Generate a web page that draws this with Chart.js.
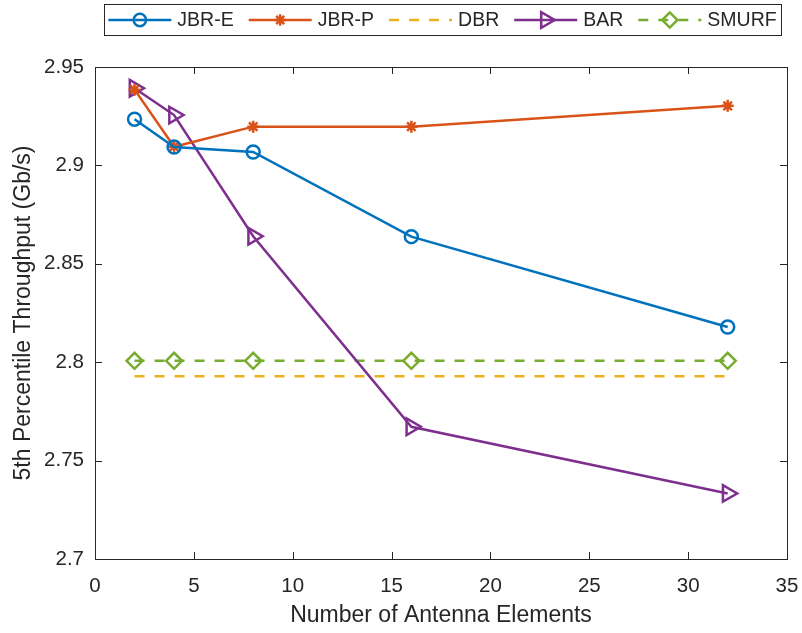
<!DOCTYPE html>
<html>
<head>
<meta charset="utf-8">
<script src="https://cdn.jsdelivr.net/npm/chart.js@4.4.1/dist/chart.umd.min.js"></script>
<style>
  html, body { margin: 0; padding: 0; background: #fff; }
  #wrap { width: 802px; height: 633px; }
</style>
</head>
<body>
<div id="wrap"><canvas id="chart" width="802" height="633"></canvas></div>
<script>
// antenna element counts (x) and 5th percentile throughput (Gb/s)
const antennaCounts = [2, 4, 8, 16, 32];
const jbrE  = [2.9235, 2.9093, 2.9068, 2.8638, 2.8179];
const jbrP  = [2.9385, 2.9095, 2.9197, 2.9197, 2.9303];
const dbr   = [2.7928, 2.7928, 2.7928, 2.7928, 2.7928];
const bar   = [2.9392, 2.9256, 2.8640, 2.7672, 2.7333];
const smurf = [2.8007, 2.8007, 2.8007, 2.8007, 2.8007];

const seriesNames = ['JBR-E', 'JBR-P', 'DBR', 'BAR', 'SMURF'];
const xTickValues = [0, 5, 10, 15, 20, 25, 30, 35];
const yTickValues = [2.7, 2.75, 2.8, 2.85, 2.9, 2.95];

const FONT = "'Liberation Sans', Arial, sans-serif";
const TEXT_COLOR = '#262626';
const TICK_SIZE = 20.5;
const LABEL_SIZE = 23;

function toPoints(ys) {
    return antennaCounts.map((x, i) => ({ x: x, y: ys[i] }));
}

// MATLAB-ish default colours
const datasets = [
    { label: seriesNames[0], data: toPoints(jbrE), borderColor: '#0072BD',
      pointStyle: 'circle', pointRadius: 6.5 },
    { label: seriesNames[1], data: toPoints(jbrP), borderColor: '#D95319',
      pointStyle: 'star', pointRadius: 6 },
    { label: seriesNames[2], data: toPoints(dbr), borderColor: '#EDB120',
      borderDash: [10, 10], pointRadius: 0 },
    { label: seriesNames[3], data: toPoints(bar), borderColor: '#7E2F8E',
      pointStyle: 'triangle', pointRotation: 90, pointRadius: 9.5 },
    { label: seriesNames[4], data: toPoints(smurf), borderColor: '#77AC30',
      borderDash: [10, 10], pointStyle: 'rectRot', pointRadius: 8 }
].map(ds => Object.assign({
    borderWidth: 2.5,
    pointBorderWidth: 2.5,
    pointBackgroundColor: 'rgba(0,0,0,0)',
    pointBorderColor: ds.borderColor,
    pointRotation: 0,
    tension: 0,
    fill: false
}, ds));

// box round the plot with inward ticks, like MATLAB "box on"
const boxPlugin = {
    id: 'boxPlugin',
    afterDraw(chart) {
        const ctx = chart.ctx;
        const a = chart.chartArea;
        const xs = chart.scales.x, ys = chart.scales.y;
        const tick = 7;
        ctx.save();
        ctx.strokeStyle = TEXT_COLOR;
        ctx.lineWidth = 1;
        ctx.strokeRect(Math.round(a.left) + 0.5, Math.round(a.top) + 0.5,
            Math.round(a.right - a.left), Math.round(a.bottom - a.top));
        ctx.beginPath();
        xTickValues.forEach(v => {
            const px = Math.round(xs.getPixelForValue(v)) + 0.5;
            ctx.moveTo(px, a.bottom); ctx.lineTo(px, a.bottom - tick);
            ctx.moveTo(px, a.top); ctx.lineTo(px, a.top + tick);
        });
        yTickValues.forEach(v => {
            const py = Math.round(ys.getPixelForValue(v)) + 0.5;
            ctx.moveTo(a.left, py); ctx.lineTo(a.left + tick, py);
            ctx.moveTo(a.right, py); ctx.lineTo(a.right - tick, py);
        });
        ctx.stroke();
        ctx.restore();
    }
};

// legend in a box at the top, line sample + marker for every series
const legendPlugin = {
    id: 'boxLegend',
    afterDraw(chart) {
        const ctx = chart.ctx;
        const boxL = 104, boxR = 781, boxT = 4, boxB = 35;
        const cy = (boxT + boxB) / 2 + 0.5;
        const lineLen = 63, textGap = 6, itemGap = 15;
        ctx.save();
        ctx.font = '19.5px ' + FONT;
        let total = 0;
        chart.data.datasets.forEach((ds, i) => {
            total += lineLen + textGap + ctx.measureText(ds.label).width;
            if (i > 0) total += itemGap;
        });
        ctx.fillStyle = '#fff';
        ctx.fillRect(boxL, boxT, boxR - boxL, boxB - boxT);
        ctx.strokeStyle = TEXT_COLOR;
        ctx.lineWidth = 1;
        ctx.strokeRect(boxL + 0.5, boxT + 0.5, boxR - boxL, boxB - boxT);

        let x = boxL + (boxR - boxL - total) / 2;
        chart.data.datasets.forEach(ds => {
            ctx.strokeStyle = ds.borderColor;
            ctx.lineWidth = ds.borderWidth;
            ctx.setLineDash(ds.borderDash || []);
            ctx.beginPath();
            ctx.moveTo(x, cy);
            ctx.lineTo(x + lineLen, cy);
            ctx.stroke();
            ctx.setLineDash([]);
            if (ds.pointRadius > 0) {
                ctx.fillStyle = 'rgba(0,0,0,0)';
                ctx.strokeStyle = ds.borderColor;
                ctx.lineWidth = ds.pointBorderWidth;
                Chart.helpers.drawPoint(ctx, {
                    pointStyle: ds.pointStyle,
                    radius: ds.pointRadius * 0.95,
                    rotation: ds.pointRotation,
                    borderWidth: ds.pointBorderWidth
                }, x + lineLen / 2, cy);
            }
            x += lineLen + textGap;
            ctx.fillStyle = TEXT_COLOR;
            ctx.textBaseline = 'middle';
            ctx.textAlign = 'left';
            ctx.fillText(ds.label, x, cy + 1);
            x += ctx.measureText(ds.label).width + itemGap;
        });
        ctx.restore();
    }
};

const chart = new Chart(document.getElementById('chart'), {
    type: 'line',
    data: { datasets: datasets },
    options: {
        responsive: false,
        animation: false,
        layout: { padding: { left: 0, top: 67, right: 15, bottom: 0 } },
        plugins: {
            legend: { display: false },
            tooltip: { enabled: false }
        },
        scales: {
            x: {
                type: 'linear',
                min: 0,
                max: 35,
                afterFit(scale) {
                    scale.height = 74;
                    scale.paddingLeft = 0;
                    scale.paddingRight = 0;
                },
                afterBuildTicks(scale) { scale.ticks = xTickValues.map(v => ({ value: v })); },
                grid: { display: false, drawTicks: false },
                border: { display: false },
                ticks: {
                    padding: 15,
                    color: TEXT_COLOR,
                    font: { family: FONT, size: TICK_SIZE },
                    maxRotation: 0
                },
                title: {
                    display: true,
                    text: 'Number of Antenna Elements',
                    color: TEXT_COLOR,
                    font: { family: FONT, size: LABEL_SIZE },
                    padding: { top: 0, bottom: 4 }
                }
            },
            y: {
                type: 'linear',
                min: 2.7,
                max: 2.95,
                afterFit(scale) {
                    scale.width = 95;
                    scale.paddingTop = 0;
                    scale.paddingBottom = 0;
                },
                afterBuildTicks(scale) { scale.ticks = yTickValues.map(v => ({ value: v })); },
                grid: { display: false, drawTicks: false },
                border: { display: false },
                ticks: {
                    padding: 11,
                    color: TEXT_COLOR,
                    font: { family: FONT, size: TICK_SIZE },
                    callback: v => Number(v.toFixed(2)).toString()
                },
                title: {
                    display: true,
                    text: '5th Percentile Throughput (Gb/s)',
                    color: TEXT_COLOR,
                    font: { family: FONT, size: LABEL_SIZE },
                    padding: { top: 10, bottom: 0 }
                }
            }
        }
    },
    plugins: [boxPlugin, legendPlugin]
});
</script>
</body>
</html>
